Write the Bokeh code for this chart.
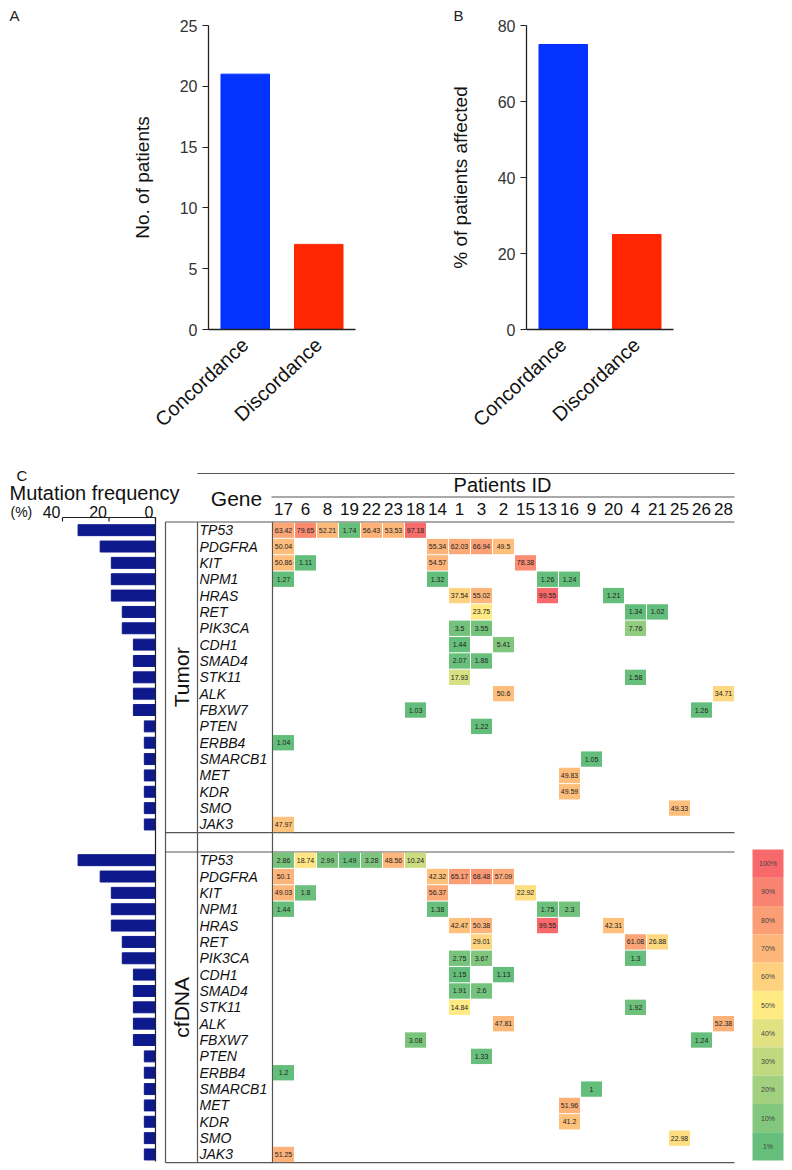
import numpy as np
from bokeh.plotting import figure
from bokeh.models import Range1d, FactorRange, FixedTicker, ColumnDataSource
from bokeh.layouts import column, row
from bokeh.transform import linear_cmap
from bokeh.core.properties import value
from bokeh.embed import file_html
from bokeh.resources import INLINE

# ---------------- data ----------------
CATEGORIES = ["Concordance", "Discordance"]
N_PATIENTS = [21, 7]
PCT_PATIENTS = [75, 25]
BAR_COLORS = ["#0433FF", "#FF2600"]

PATIENTS = ["17", "6", "8", "19", "22", "23", "18", "14", "1", "3", "2",
            "15", "13", "16", "9", "20", "4", "21", "25", "26", "28"]
GENES = ["TP53", "PDGFRA", "KIT", "NPM1", "HRAS", "RET", "PIK3CA", "CDH1",
         "SMAD4", "STK11", "ALK", "FBXW7", "PTEN", "ERBB4", "SMARCB1", "MET",
         "KDR", "SMO", "JAK3"]
SECTIONS = ["Tumor", "cfDNA"]
FREQ_TUMOR = [33.3, 23.8, 19.0, 19.0, 19.0, 14.3, 14.3, 9.5, 9.5, 9.5, 9.5,
              9.5, 4.8, 4.8, 4.8, 4.8, 4.8, 4.8, 4.8]
FREQ_CFDNA = [33.3, 23.8, 19.0, 19.0, 19.0, 14.3, 14.3, 9.5, 9.5, 9.5, 9.5,
              9.5, 4.8, 4.8, 4.8, 4.8, 4.8, 4.8, 4.8]
FREQ_TICKS = [0, 20, 40]

TUMOR_CELLS = [
    ("TP53", "17", 63.42), ("TP53", "6", 79.65), ("TP53", "8", 52.21), ("TP53", "19", 1.74),
    ("TP53", "22", 56.43), ("TP53", "23", 53.53), ("TP53", "18", 97.18),
    ("PDGFRA", "17", 50.04), ("PDGFRA", "14", 55.34), ("PDGFRA", "1", 62.03),
    ("PDGFRA", "3", 66.94), ("PDGFRA", "2", 49.5),
    ("KIT", "17", 50.86), ("KIT", "6", 1.11), ("KIT", "14", 54.57), ("KIT", "15", 78.38),
    ("NPM1", "17", 1.27), ("NPM1", "14", 1.32), ("NPM1", "13", 1.26), ("NPM1", "16", 1.24),
    ("HRAS", "1", 37.54), ("HRAS", "3", 55.02), ("HRAS", "13", 99.55), ("HRAS", "20", 1.21),
    ("RET", "3", 23.75), ("RET", "4", 1.34), ("RET", "21", 1.02),
    ("PIK3CA", "1", 3.5), ("PIK3CA", "3", 3.55), ("PIK3CA", "4", 7.76),
    ("CDH1", "1", 1.44), ("CDH1", "2", 5.41),
    ("SMAD4", "1", 2.07), ("SMAD4", "3", 1.86),
    ("STK11", "1", 17.93), ("STK11", "4", 1.58),
    ("ALK", "2", 50.6), ("ALK", "28", 34.71),
    ("FBXW7", "18", 1.03), ("FBXW7", "26", 1.26),
    ("PTEN", "3", 1.22), ("ERBB4", "17", 1.04), ("SMARCB1", "9", 1.05),
    ("MET", "16", 49.83), ("KDR", "16", 49.59), ("SMO", "25", 49.33), ("JAK3", "17", 47.97),
]
CFDNA_CELLS = [
    ("TP53", "17", 2.86), ("TP53", "6", 18.74), ("TP53", "8", 2.99), ("TP53", "19", 1.49),
    ("TP53", "22", 3.28), ("TP53", "23", 48.56), ("TP53", "18", 10.24),
    ("PDGFRA", "17", 50.1), ("PDGFRA", "14", 42.32), ("PDGFRA", "1", 65.17),
    ("PDGFRA", "3", 68.48), ("PDGFRA", "2", 57.09),
    ("KIT", "17", 49.03), ("KIT", "6", 1.8), ("KIT", "14", 56.37), ("KIT", "15", 22.92),
    ("NPM1", "17", 1.44), ("NPM1", "14", 1.38), ("NPM1", "13", 1.75), ("NPM1", "16", 2.3),
    ("HRAS", "1", 42.47), ("HRAS", "3", 50.38), ("HRAS", "13", 99.55), ("HRAS", "20", 42.31),
    ("RET", "3", 29.01), ("RET", "4", 61.08), ("RET", "21", 26.88),
    ("PIK3CA", "1", 2.75), ("PIK3CA", "3", 3.67), ("PIK3CA", "4", 1.3),
    ("CDH1", "1", 1.15), ("CDH1", "2", 1.13),
    ("SMAD4", "1", 1.91), ("SMAD4", "3", 2.6),
    ("STK11", "1", 14.84), ("STK11", "4", 1.92),
    ("ALK", "2", 47.81), ("ALK", "28", 52.38),
    ("FBXW7", "18", 3.08), ("FBXW7", "26", 1.24),
    ("PTEN", "3", 1.33), ("ERBB4", "17", 1.2), ("SMARCB1", "9", 1.0),
    ("MET", "16", 51.96), ("KDR", "16", 41.2), ("SMO", "25", 22.98), ("JAK3", "17", 51.25),
]
LEGEND_LEVELS = [100, 90, 80, 70, 60, 50, 40, 30, 20, 10, 1]

# ---------------- style ----------------
FONT = "Liberation Sans"
NAVY = "#0e1a8c"
LINE = "#555555"
ANCHORS = [(0x63, 0xBE, 0x7B), (0xFF, 0xEB, 0x84), (0xF8, 0x69, 0x6B)]


def make_palette(n=256):
    pal = []
    for i in range(n):
        t = i / (n - 1)
        if t <= 0.5:
            a, b, u = ANCHORS[0], ANCHORS[1], t / 0.5
        else:
            a, b, u = ANCHORS[1], ANCHORS[2], (t - 0.5) / 0.5
        pal.append("#%02x%02x%02x" % tuple(int(round(a[k] + (b[k] - a[k]) * u)) for k in range(3)))
    return pal


PALETTE = make_palette()


def three_point_scale(vals):
    lo, med, hi = min(vals), float(np.median(vals)), max(vals)
    out = []
    for v in vals:
        if v <= med:
            out.append(0.5 * (v - lo) / (med - lo))
        else:
            out.append(0.5 + 0.5 * (v - med) / (hi - med))
    return out


# ---------------- panels A and B ----------------
TOP_H = 468
FRAME_TOP, FRAME_H = 25, 304


def bar_panel(vals, ymax, ticks, ylabel, width, bl, br, letter, letter_x):
    p = figure(x_range=FactorRange(factors=CATEGORIES), y_range=Range1d(0, ymax),
               width=width, height=TOP_H, output_backend="svg", toolbar_location=None,
               min_border_left=bl, min_border_right=br, min_border_top=FRAME_TOP,
               min_border_bottom=TOP_H - FRAME_TOP - FRAME_H, title=letter)
    p.title.align = "left"
    p.title.offset = letter_x - bl
    p.title.standoff = 4
    p.title.text_font = FONT
    p.title.text_font_style = "normal"
    p.title.text_font_size = "15px"
    p.title.text_color = "#222222"
    src = ColumnDataSource(dict(cat=CATEGORIES, val=vals, color=BAR_COLORS))
    p.vbar(x="cat", top="val", width=0.66, fill_color="color", line_color="color", source=src)
    p.xgrid.visible = False
    p.ygrid.visible = False
    p.outline_line_color = None
    p.yaxis.ticker = FixedTicker(ticks=ticks)
    p.yaxis.minor_tick_line_color = None
    p.yaxis.major_tick_out = 6
    p.yaxis.major_tick_in = 0
    p.yaxis.major_label_text_font = FONT
    p.yaxis.major_label_text_font_size = "16px"
    p.yaxis.major_label_text_color = "#333333"
    p.yaxis.axis_label = ylabel
    p.yaxis.axis_label_text_font = FONT
    p.yaxis.axis_label_text_font_style = "normal"
    p.yaxis.axis_label_text_font_size = "19px"
    p.yaxis.axis_label_text_color = "#111111"
    p.yaxis.axis_label_standoff = 24
    p.xaxis.major_label_orientation = 0.75
    p.xaxis.major_label_text_font = FONT
    p.xaxis.major_label_text_font_size = "20px"
    p.xaxis.major_label_text_color = "#111111"
    p.xaxis.major_label_standoff = 6
    for ax in (p.xaxis, p.yaxis):
        ax.axis_line_color = "#222222"
        ax.axis_line_width = 1.3
        ax.major_tick_line_color = "#222222"
    p.xaxis.major_tick_line_color = None
    return p


pa = bar_panel(N_PATIENTS, 25, [0, 5, 10, 15, 20, 25], "No. of patients", 400, 208, 45, "A", 9)
pb = bar_panel(PCT_PATIENTS, 80, [0, 20, 40, 60, 80], "% of patients affected", 392, 126, 119,
               "B", 53)

# ---------------- panel C ----------------
X0, CW = 272.0, 22.0
Y0, RH = 521.5, 16.35
C_TOP, C_BOTTOM, C_RIGHT = TOP_H, 1170, 792


def cx(px):
    return (px - X0) / CW


def cy(px):
    return (px - Y0) / RH


def fx(px):
    return (155.0 - px) / 2.325


CF0 = cy(851.5)
OFFSETS = [0.0, CF0]

pc = figure(width=C_RIGHT, height=C_BOTTOM - C_TOP, x_range=Range1d(cx(0), cx(C_RIGHT)),
            y_range=Range1d(cy(C_BOTTOM), cy(C_TOP)), output_backend="svg",
            toolbar_location=None, x_axis_location=None, y_axis_location=None,
            min_border=0, min_border_left=0, min_border_right=0,
            min_border_top=0, min_border_bottom=0)
pc.outline_line_color = None
pc.grid.visible = False
pc.extra_x_ranges = {"freq": Range1d(fx(0), fx(C_RIGHT))}


def txt(x, y, text, size, align="left", baseline="middle", angle=0.0, style="normal",
        color="#111111", font=FONT, range_name=None, x_offset=0):
    kw = {}
    if range_name:
        kw["x_range_name"] = range_name
    pc.text(x=x, y=y, text=text, text_font=value(font), text_font_size=f"{size}px",
            text_align=align, text_baseline=baseline, angle=angle, text_font_style=style,
            text_color=color, x_offset=x_offset, **kw)


# mutation frequency bars
for off, freq in zip(OFFSETS, [FREQ_TUMOR, FREQ_CFDNA]):
    ys = [off + i + 0.5 for i in range(len(GENES))]
    pc.hbar(y=ys, left=0, right=freq, height=0.67, x_range_name="freq",
            fill_color=NAVY, line_color=NAVY)

# frequency axis
pc.segment(x0=[0], x1=[max(FREQ_TICKS)], y0=[cy(517)], y1=[cy(517)], x_range_name="freq",
           line_color="#222222", line_width=1.2)
pc.segment(x0=FREQ_TICKS, x1=FREQ_TICKS, y0=[cy(517)] * 3, y1=[cy(521)] * 3,
           x_range_name="freq", line_color="#222222", line_width=1.2)
pc.segment(x0=[0], x1=[0], y0=[cy(517)], y1=[cy(1161)], x_range_name="freq",
           line_color="#222222", line_width=1.2)
txt(FREQ_TICKS, [cy(511)] * 3, [str(t) for t in FREQ_TICKS], 16, align="right",
    range_name="freq", x_offset=-2)
txt([cx(10)], [cy(511)], ["(%)"], 14)
txt([cx(9)], [cy(492)], ["Mutation frequency"], 20)
txt([cx(16)], [cy(475)], ["C"], 15)

# header
txt([cx(236)], [cy(498)], ["Gene"], 21, align="center")
txt([cx(502)], [cy(484)], ["Patients ID"], 20, align="center")
txt([i + 0.5 for i in range(len(PATIENTS))], [cy(508)] * len(PATIENTS), PATIENTS, 17,
    align="center")
pc.segment(x0=[cx(197), cx(271)], x1=[cx(734), cx(734)], y0=[cy(473), cy(496.5)],
           y1=[cy(473), cy(496.5)], line_color=LINE, line_width=1.2)

# table frame lines
bottom = CF0 + len(GENES)
hy = [0.0, float(len(GENES)), CF0, bottom]
pc.segment(x0=[cx(165)] * 4, x1=[cx(734)] * 4, y0=hy, y1=hy, line_color=LINE, line_width=1.2)
vx = [cx(165), cx(197), 0.0]
pc.segment(x0=vx, x1=vx, y0=[0.0] * 3, y1=[bottom] * 3, line_color=LINE, line_width=1.2)

# gene labels and section labels
for off, sec in zip(OFFSETS, SECTIONS):
    txt([cx(199)] * len(GENES), [off + i + 0.5 for i in range(len(GENES))], GENES, 14,
        style="italic")
    txt([cx(181)], [off + len(GENES) / 2.0], [sec], 21, align="center", angle=np.pi / 2)

# heatmap cells
for off, cells in zip(OFFSETS, [TUMOR_CELLS, CFDNA_CELLS]):
    vals = [c[2] for c in cells]
    src = ColumnDataSource(dict(
        x=[PATIENTS.index(c[1]) + 0.5 for c in cells],
        y=[off + GENES.index(c[0]) + 0.5 for c in cells],
        t=three_point_scale(vals),
        label=["{:g}".format(v) for v in vals],
    ))
    pc.rect(x="x", y="y", width=1 - 1.0 / CW, height=1 - 1.0 / RH, source=src,
            fill_color=linear_cmap("t", PALETTE, 0, 1), line_color=None)
    pc.text(x="x", y="y", text="label", source=src, text_font=value(FONT),
            text_font_size="7px", text_align="center", text_baseline="middle",
            text_color="#222222")

# colour legend
LT, LB = cy(849), cy(1160)
lh = (LB - LT) / len(LEGEND_LEVELS)
lsrc = ColumnDataSource(dict(
    x=[(cx(752) + cx(783)) / 2.0] * len(LEGEND_LEVELS),
    y=[LT + (i + 0.5) * lh for i in range(len(LEGEND_LEVELS))],
    t=[lv / 100.0 for lv in LEGEND_LEVELS],
    label=[f"{lv}%" for lv in LEGEND_LEVELS],
))
pc.rect(x="x", y="y", width=cx(783) - cx(752), height=lh, source=lsrc,
        fill_color=linear_cmap("t", PALETTE, 0, 1), line_color=None)
pc.text(x="x", y="y", text="label", source=lsrc, text_font=value(FONT),
        text_font_size="7px", text_align="center", text_baseline="middle",
        text_color="#444444")

layout = column(row(pa, pb), pc)
open("out.html", "w").write(file_html(layout, INLINE))
